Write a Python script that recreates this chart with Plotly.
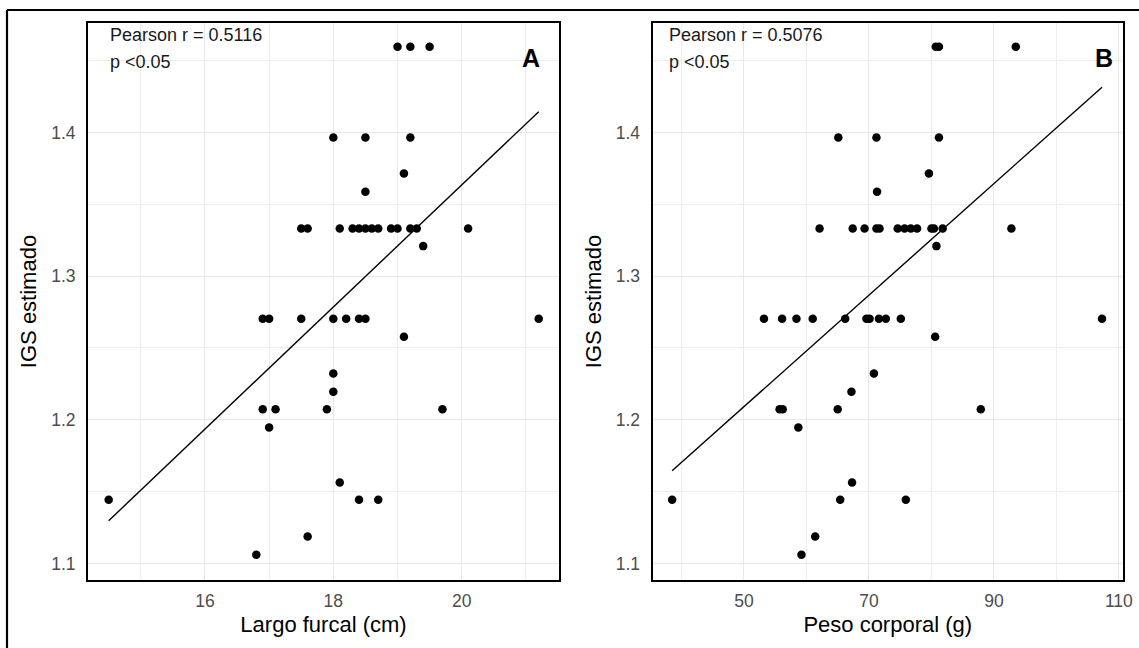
import numpy as np
import plotly.graph_objects as go

# ---------------- data ----------------
# Panel A: Largo furcal (cm) vs IGS estimado
largo_cm = [19.0, 19.2, 19.5,
            18.0, 18.5, 19.2,
            19.1,
            18.5,
            17.5, 17.6, 18.1, 18.3, 18.4, 18.5, 18.6, 18.7, 18.9, 19.0, 19.2, 19.3, 20.1,
            19.4,
            16.9, 17.0, 17.5, 18.0, 18.2, 18.4, 18.5, 21.2,
            19.1,
            18.0,
            18.0,
            16.9, 17.1, 17.9, 19.7,
            17.0,
            18.1,
            14.5, 18.4, 18.7,
            17.6,
            16.8]
igs_a = [1.4596, 1.4596, 1.4596,
         1.3965, 1.3965, 1.3965,
         1.3714,
         1.3587,
         1.3331, 1.3331, 1.3331, 1.3331, 1.3331, 1.3331, 1.3331, 1.3331, 1.3331, 1.3331, 1.3331, 1.3331, 1.3331,
         1.3209,
         1.2703, 1.2703, 1.2703, 1.2703, 1.2703, 1.2703, 1.2703, 1.2703,
         1.2578,
         1.2322,
         1.2195,
         1.2074, 1.2074, 1.2074, 1.2074,
         1.1947,
         1.1564,
         1.1443, 1.1443, 1.1443,
         1.1188,
         1.1061]

# Panel B: Peso corporal (g) vs IGS estimado
peso_g = [80.7, 81.2, 93.5,
          65.1, 71.2, 81.2,
          79.6,
          71.3,
          62.1, 67.4, 69.3, 71.2, 71.7, 74.6, 75.7, 76.7, 77.7, 80.0, 80.4, 81.8, 92.8,
          80.8,
          53.2, 56.1, 58.4, 61.0, 66.2, 69.6, 70.1, 71.6, 72.7, 75.1, 107.3,
          80.6,
          70.8,
          67.2,
          55.7, 56.2, 65.0, 87.9,
          58.7,
          67.3,
          38.5, 65.4, 75.9,
          61.4,
          59.2]
igs_b = [1.4596, 1.4596, 1.4596,
         1.3965, 1.3965, 1.3965,
         1.3714,
         1.3587,
         1.3331, 1.3331, 1.3331, 1.3331, 1.3331, 1.3331, 1.3331, 1.3331, 1.3331, 1.3331, 1.3331, 1.3331, 1.3331,
         1.3209,
         1.2703, 1.2703, 1.2703, 1.2703, 1.2703, 1.2703, 1.2703, 1.2703, 1.2703, 1.2703, 1.2703,
         1.2578,
         1.2322,
         1.2195,
         1.2074, 1.2074, 1.2074, 1.2074,
         1.1947,
         1.1564,
         1.1443, 1.1443, 1.1443,
         1.1188,
         1.1061]

# linear fits as drawn in the reference (intercept, slope)
fit_a = (0.5135, 0.0425)
fit_b = (1.0151, 0.003881)

pearson_a = "Pearson r = 0.5116"
pearson_b = "Pearson r = 0.5076"
p_text = "p <0.05"
x_title_a = "Largo furcal (cm)"
x_title_b = "Peso corporal (g)"
y_title = "IGS estimado"

# ---------------- figure ----------------
W, H = 1139, 648
FONT = "Liberation Sans, Arial, Helvetica, sans-serif"


def px_x(p):
    return p / W


def px_y(p):
    return 1 - p / H


fig = go.Figure()

for xs, ys, fit, xa, ya in [(largo_cm, igs_a, fit_a, "x", "y"), (peso_g, igs_b, fit_b, "x2", "y2")]:
    fig.add_trace(go.Scatter(x=xs, y=ys, mode="markers", xaxis=xa, yaxis=ya,
                             marker=dict(color="black", size=8.5), showlegend=False))
    b, k = fit
    xl = np.array([min(xs), max(xs)])
    fig.add_trace(go.Scatter(x=xl, y=b + k * xl, mode="lines", xaxis=xa, yaxis=ya,
                             line=dict(color="black", width=1.4), showlegend=False))

common_axis = dict(
    showline=True, linecolor="black", linewidth=2, mirror=True,
    showgrid=True, gridcolor="#E8E8E8", gridwidth=1.4,
    zeroline=False, ticks="outside", tickcolor="rgba(0,0,0,0)",
    tickfont=dict(family=FONT, size=17.5, color="#4D4D4D"),
    automargin=False,
)

ydom = [px_y(580), px_y(23)]

fig.update_layout(
    width=W, height=H,
    margin=dict(l=0, r=0, t=0, b=0),
    paper_bgcolor="white", plot_bgcolor="white",
    font=dict(family=FONT),
    xaxis=dict(domain=[px_x(88), px_x(559)], range=[14.178, 21.516], tick0=16, dtick=2,
               ticklen=4, minor=dict(tick0=15, dtick=1, showgrid=True, gridcolor="#EDEDED", gridwidth=1),
               title=dict(text=x_title_a, font=dict(size=22, color="black"), standoff=7),
               **common_axis),
    yaxis=dict(domain=ydom, range=[1.0885, 1.4762], tick0=1.1, dtick=0.1, tickformat=".1f",
               ticklen=7, minor=dict(tick0=1.15, dtick=0.05, showgrid=True, gridcolor="#EDEDED", gridwidth=1),
               title=dict(text=y_title, font=dict(size=22, color="black"), standoff=8),
               **common_axis),
    xaxis2=dict(domain=[px_x(652.5), px_x(1123)], range=[35.36, 110.66], tick0=50, dtick=20,
                ticklen=4, anchor="y2",
                minor=dict(tick0=40, dtick=10, showgrid=True, gridcolor="#EDEDED", gridwidth=1),
                title=dict(text=x_title_b, font=dict(size=22, color="black"), standoff=7),
                **common_axis),
    yaxis2=dict(domain=ydom, range=[1.0885, 1.4762], tick0=1.1, dtick=0.1, tickformat=".1f",
                ticklen=7, anchor="x2",
                minor=dict(tick0=1.15, dtick=0.05, showgrid=True, gridcolor="#EDEDED", gridwidth=1),
                title=dict(text=y_title, font=dict(size=22, color="black"), standoff=8),
                **common_axis),
)

ann = []
for left, pr, letter, lx in [(108, pearson_a, "A", 531.3), (667, pearson_b, "B", 1103.5)]:
    ann.append(dict(text=pr, x=px_x(left), y=px_y(35.4), xref="paper", yref="paper",
                    xanchor="left", yanchor="middle", showarrow=False,
                    font=dict(family=FONT, size=18, color="#1A1A1A")))
    ann.append(dict(text=p_text, x=px_x(left), y=px_y(62), xref="paper", yref="paper",
                    xanchor="left", yanchor="middle", showarrow=False,
                    font=dict(family=FONT, size=18, color="#1A1A1A")))
    ann.append(dict(text="<b>" + letter + "</b>", x=px_x(lx), y=px_y(58), xref="paper", yref="paper",
                    xanchor="center", yanchor="middle", showarrow=False,
                    font=dict(family=FONT, size=25, color="black")))
fig.update_layout(annotations=ann)

# outer frame (partially cropped in the reference)
fig.add_shape(type="line", xref="paper", yref="paper", x0=px_x(7), x1=1.01, y0=px_y(10), y1=px_y(10),
              line=dict(color="black", width=2.2))
fig.add_shape(type="line", xref="paper", yref="paper", x0=px_x(7), x1=px_x(7), y0=px_y(10), y1=-0.01,
              line=dict(color="black", width=2.2))

fig.write_html("out.html", config={"displayModeBar": False},
               post_script="document.body.style.margin='0px';document.body.style.padding='0px';")
